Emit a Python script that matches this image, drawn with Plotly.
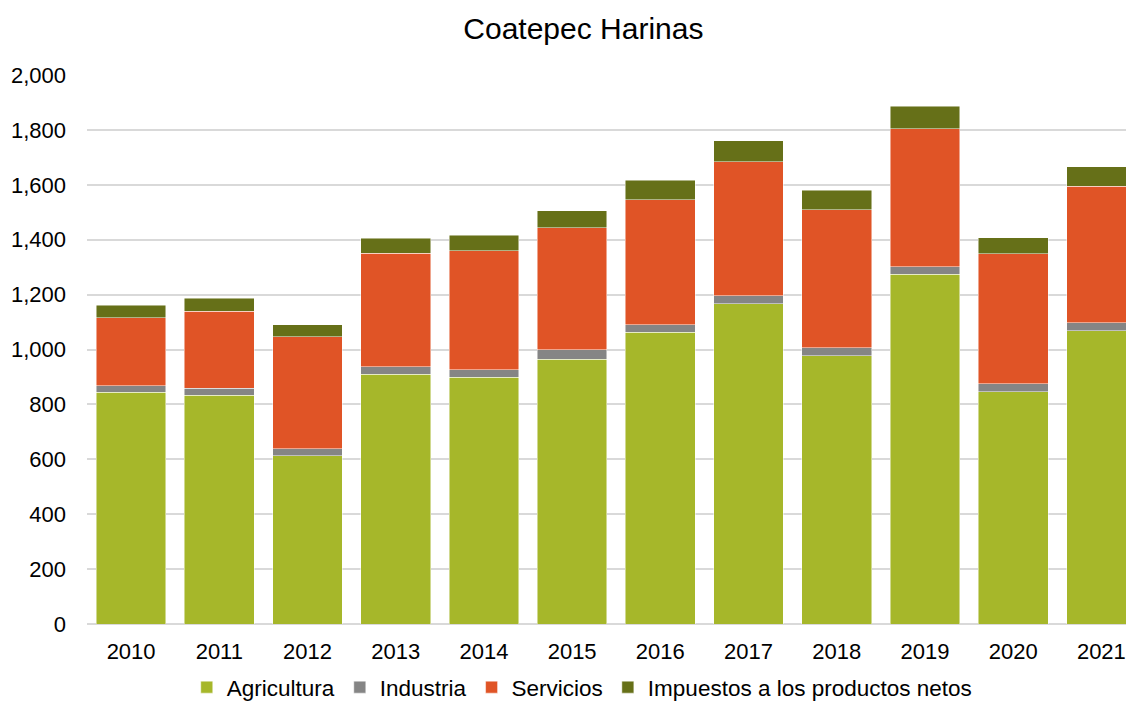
import plotly.graph_objects as go

years = ["2010", "2011", "2012", "2013", "2014", "2015", "2016", "2017", "2018", "2019", "2020", "2021"]
agricultura = [845, 833, 613, 909, 899, 965, 1063, 1167, 977, 1274, 847, 1068]
industria = [23, 26, 26, 28, 28, 35, 27, 28, 29, 28, 29, 29]
servicios = [247, 280, 407, 413, 432, 443, 455, 489, 504, 502, 472, 498]
impuestos = [47, 48, 44, 55, 57, 62, 71, 77, 71, 83, 59, 70]

series = [
    ("Agricultura", agricultura, "#A6B72A"),
    ("Industria", industria, "#858585"),
    ("Servicios", servicios, "#E05426"),
    ("Impuestos a los productos netos", impuestos, "#667018"),
]

fig = go.Figure()
for name, vals, color in series:
    fig.add_trace(go.Bar(
        x=years, y=vals, name=name,
        marker=dict(color=color, line=dict(color="rgba(255,255,255,0.6)", width=0.8)),
    ))

font_family = "Arial, Liberation Sans, sans-serif"
fig.update_layout(
    barmode="stack",
    bargap=0.21,
    width=1126, height=701,
    paper_bgcolor="white", plot_bgcolor="white",
    margin=dict(l=79, r=0, t=67, b=85),
    title=dict(text="Coatepec Harinas", x=0.511, xanchor="center", y=0.971, yanchor="middle",
               font=dict(family=font_family, size=30, color="black")),
    font=dict(family=font_family, color="black"),
    xaxis=dict(
        type="category", range=[-0.5, 11.37],
        tickfont=dict(size=22, color="black"),
        showgrid=False, showline=False, ticks="",
        ticklabelstandoff=12,
    ),
    yaxis=dict(
        range=[0, 2000], tickvals=list(range(0, 2001, 200)),
        tickformat=",d",
        tickfont=dict(size=22, color="black"),
        showgrid=True, gridcolor="#D9D9D9", gridwidth=1.5,
        zeroline=True, zerolinecolor="#D9D9D9", zerolinewidth=1.5,
        showline=False, ticks="", ticklen=0,
        ticklabelstandoff=20,
    ),
    legend=dict(
        orientation="h", xref="container", x=0.51, xanchor="center",
        yref="container", y=0, yanchor="bottom",
        font=dict(size=22.5, color="black"),
        traceorder="normal", itemwidth=30,
    ),
)

fig.write_html("out.html")
